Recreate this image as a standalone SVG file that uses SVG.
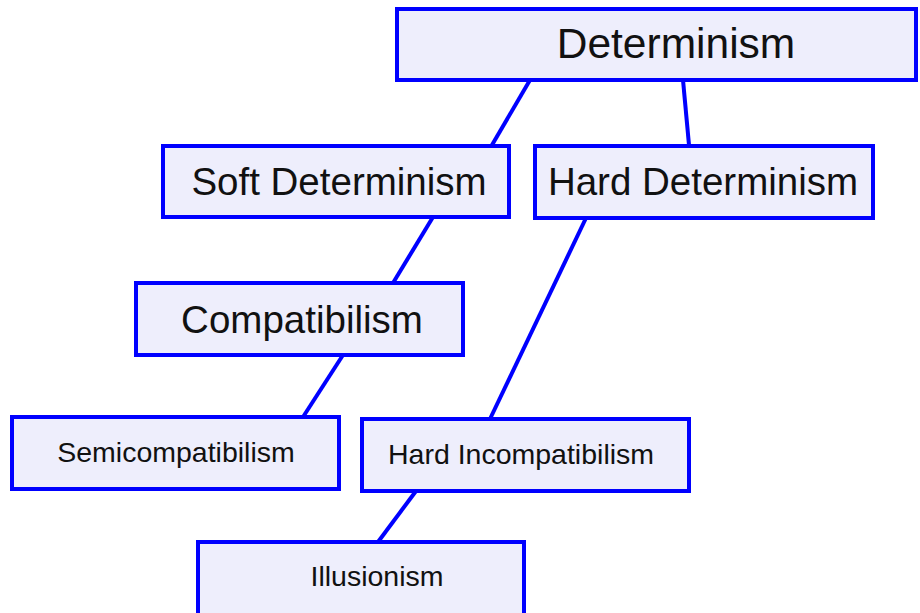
<svg xmlns="http://www.w3.org/2000/svg" width="920" height="613" viewBox="0 0 920 613">
<style>
.box{fill:#EEEEFC;stroke:#0000FF;stroke-width:4}
.edge{stroke:#0000FF;stroke-width:4;fill:none}
text{font-family:"Liberation Sans",Arial,sans-serif;fill:#111;text-anchor:middle}
.l{font-size:42.5px}.m{font-size:38.5px}.s{font-size:28.5px}
</style>
<rect width="920" height="613" fill="#fff"/>
<g id="connectors">
<line class="edge" x1="530" y1="80" x2="492" y2="145"/>
<line class="edge" x1="683" y1="80" x2="689" y2="145"/>
<line class="edge" x1="433" y1="217" x2="393" y2="283"/>
<line class="edge" x1="586" y1="218" x2="490" y2="419"/>
<line class="edge" x1="343" y1="355" x2="303" y2="417"/>
<line class="edge" x1="416" y1="491" x2="378" y2="542"/>
</g>
<g id="determinism"><rect class="box" x="397" y="9" width="519" height="71"/><text class="l" x="676" y="58">Determinism</text></g>
<g id="soft-determinism"><rect class="box" x="163" y="146" width="346" height="71"/><text class="m" x="339" y="195">Soft Determinism</text></g>
<g id="hard-determinism"><rect class="box" x="535" y="146" width="338" height="72"/><text class="m" x="703" y="195">Hard Determinism</text></g>
<g id="compatibilism"><rect class="box" x="136" y="283" width="327" height="72"/><text class="m" x="302" y="333">Compatibilism</text></g>
<g id="semicompatibilism"><rect class="box" x="12" y="417" width="327" height="72"/><text class="s" x="176" y="462">Semicompatibilism</text></g>
<g id="hard-incompatibilism"><rect class="box" x="362" y="419" width="327" height="72"/><text class="s" x="521" y="464">Hard Incompatibilism</text></g>
<g id="illusionism"><rect class="box" x="198" y="542" width="326" height="75"/><text class="s" x="377" y="586">Illusionism</text></g>
</svg>
